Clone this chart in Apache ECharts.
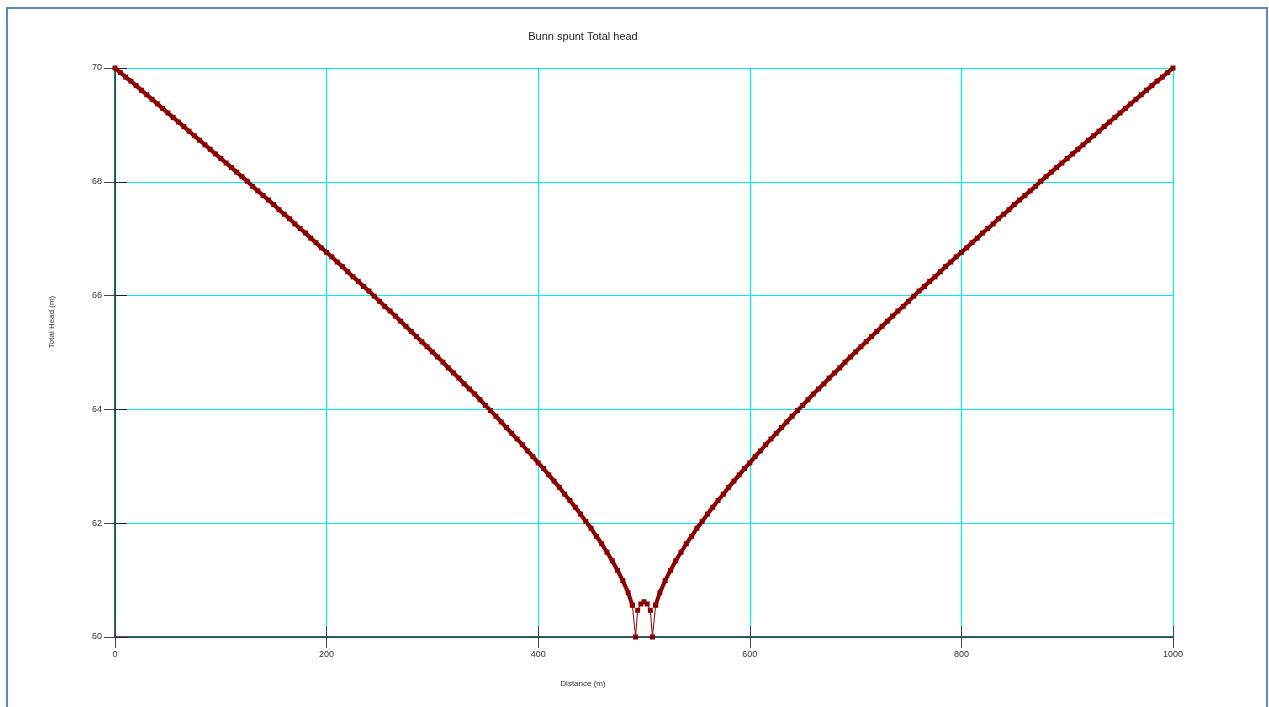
<!DOCTYPE html>
<html>
<head>
<meta charset="utf-8">
<script src="https://cdn.jsdelivr.net/npm/echarts@6/dist/echarts.min.js"></script>
<style>
html,body{margin:0;padding:0;background:#fff}
#chart{width:1269px;height:707px}
</style>
</head>
<body>
<div id="chart"></div>
<script>
// left of the sheet piles (distance in m, total head in m)
const leftDistance = [
  0, 5, 10, 15, 20, 25, 30, 35, 40, 45,
  50, 55, 60, 65, 70, 75, 80, 85, 90, 95,
  100, 105, 110, 115, 120, 125, 130, 135, 140, 145,
  150, 155, 160, 165, 170, 175, 180, 185, 190, 195,
  200, 205, 210, 215, 220, 225, 230, 235, 240, 245,
  250, 255, 260, 265, 270, 275, 280, 285, 290, 295,
  300, 305, 310, 315, 320, 325, 330, 335, 340, 345,
  350, 355, 360, 365, 370, 375, 380, 385, 390, 395,
  400, 405, 410, 415, 420, 425, 430, 435, 440, 445,
  450, 455, 460, 465, 470, 475, 480, 485, 489
];
const leftHead = [
  70.00, 69.92, 69.84, 69.77, 69.69, 69.61, 69.53, 69.45, 69.37, 69.29,
  69.21, 69.13, 69.05, 68.97, 68.89, 68.81, 68.73, 68.65, 68.57, 68.49,
  68.41, 68.33, 68.25, 68.17, 68.09, 68.01, 67.92, 67.84, 67.76, 67.68,
  67.60, 67.51, 67.43, 67.35, 67.26, 67.18, 67.10, 67.01, 66.93, 66.84,
  66.76, 66.68, 66.59, 66.51, 66.42, 66.33, 66.25, 66.16, 66.08, 65.99,
  65.90, 65.81, 65.73, 65.64, 65.55, 65.46, 65.37, 65.28, 65.19, 65.10,
  65.01, 64.92, 64.83, 64.73, 64.64, 64.55, 64.45, 64.36, 64.27, 64.17,
  64.07, 63.98, 63.88, 63.78, 63.68, 63.58, 63.48, 63.38, 63.27, 63.17,
  63.06, 62.96, 62.85, 62.74, 62.63, 62.51, 62.40, 62.28, 62.16, 62.03,
  61.91, 61.77, 61.64, 61.49, 61.34, 61.17, 60.99, 60.78, 60.56
];
// between the sheet piles
const pitDistance = [489, 492, 494, 497, 500, 503, 506, 508, 511];
const pitHead = [60.56, 60.00, 60.47, 60.58, 60.62, 60.58, 60.47, 60.00, 60.56];
// right of the sheet piles
const rightDistance = [
  511, 515, 520, 525, 530, 535, 540, 545, 550,
  555, 560, 565, 570, 575, 580, 585, 590, 595, 600,
  605, 610, 615, 620, 625, 630, 635, 640, 645, 650,
  655, 660, 665, 670, 675, 680, 685, 690, 695, 700,
  705, 710, 715, 720, 725, 730, 735, 740, 745, 750,
  755, 760, 765, 770, 775, 780, 785, 790, 795, 800,
  805, 810, 815, 820, 825, 830, 835, 840, 845, 850,
  855, 860, 865, 870, 875, 880, 885, 890, 895, 900,
  905, 910, 915, 920, 925, 930, 935, 940, 945, 950,
  955, 960, 965, 970, 975, 980, 985, 990, 995, 1000
];
const rightHead = [
  60.56, 60.78, 60.99, 61.17, 61.34, 61.49, 61.64, 61.77, 61.91,
  62.03, 62.16, 62.28, 62.40, 62.51, 62.63, 62.74, 62.85, 62.96, 63.06,
  63.17, 63.27, 63.38, 63.48, 63.58, 63.68, 63.78, 63.88, 63.98, 64.07,
  64.17, 64.27, 64.36, 64.45, 64.55, 64.64, 64.73, 64.83, 64.92, 65.01,
  65.10, 65.19, 65.28, 65.37, 65.46, 65.55, 65.64, 65.73, 65.81, 65.90,
  65.99, 66.08, 66.16, 66.25, 66.33, 66.42, 66.51, 66.59, 66.68, 66.76,
  66.84, 66.93, 67.01, 67.10, 67.18, 67.26, 67.35, 67.43, 67.51, 67.60,
  67.68, 67.76, 67.84, 67.92, 68.01, 68.09, 68.17, 68.25, 68.33, 68.41,
  68.49, 68.57, 68.65, 68.73, 68.81, 68.89, 68.97, 69.05, 69.13, 69.21,
  69.29, 69.37, 69.45, 69.53, 69.61, 69.69, 69.77, 69.84, 69.92, 70.00
];

const font = 'Liberation Sans, Arial, sans-serif';
const red = '#8b0000';

function pairs(xs, ys) {
  return xs.map(function (x, i) { return [x, ys[i]]; });
}

function lineSeries(xs, ys, width) {
  return {
    type: 'line',
    xAxisIndex: 0,
    yAxisIndex: 0,
    data: pairs(xs, ys),
    symbol: 'rect',
    symbolSize: 5,
    showSymbol: true,
    animation: false,
    lineStyle: {color: red, width: width},
    itemStyle: {color: red}
  };
}

const chart = echarts.init(document.getElementById('chart'));

const axisBase = {
  type: 'value',
  axisLine: {show: true, lineStyle: {color: '#0d2b2b', width: 1.5}},
  axisLabel: {color: '#333', fontSize: 9, fontFamily: font, margin: 13,
              formatter: function (v) { return String(v); }},
  splitLine: {show: true, lineStyle: {color: '#00f0f0', width: 1.2}},
  axisTick: {show: true, length: 11, lineStyle: {color: '#444'}}
};

chart.setOption({
  animation: false,
  grid: {left: 115, right: 96, top: 68, bottom: 70, containLabel: false},
  xAxis: [
    Object.assign({}, axisBase, {min: 0, max: 1000, interval: 200, position: 'bottom'}),
    {type: 'value', min: 0, max: 1000, interval: 200, position: 'bottom',
     axisLine: {show: false}, axisLabel: {show: false}, splitLine: {show: false},
     axisTick: {show: true, inside: true, length: 11, lineStyle: {color: '#444'}}}
  ],
  yAxis: [
    Object.assign({}, axisBase, {min: 60, max: 70, interval: 2, position: 'left'}),
    {type: 'value', min: 60, max: 70, interval: 2, position: 'left',
     axisLine: {show: false}, axisLabel: {show: false}, splitLine: {show: false},
     axisTick: {show: true, inside: true, length: 12, lineStyle: {color: '#222'}}}
  ],
  series: [
    lineSeries(leftDistance, leftHead, 4),
    lineSeries(pitDistance, pitHead, 1),
    lineSeries(rightDistance, rightHead, 4)
  ],
  graphic: [
    {type: 'rect', silent: true,
     shape: {x: 7, y: 8, width: 1260, height: 720},
     style: {fill: 'none', stroke: '#5b87c5', lineWidth: 2}},
    {type: 'text', x: 583, y: 37, silent: true,
     style: {text: 'Bunn spunt Total head', font: '11px ' + font, fill: '#222',
             textAlign: 'center', textVerticalAlign: 'middle'}},
    {type: 'text', x: 583, y: 684, silent: true,
     style: {text: 'Distance (m)', font: '8px ' + font, fill: '#333',
             textAlign: 'center', textVerticalAlign: 'middle'}},
    {type: 'text', x: 52, y: 322, rotation: Math.PI / 2, silent: true,
     style: {text: 'Total Head (m)', font: '8px ' + font, fill: '#333',
             textAlign: 'center', textVerticalAlign: 'middle'}}
  ]
});
</script>
</body>
</html>
